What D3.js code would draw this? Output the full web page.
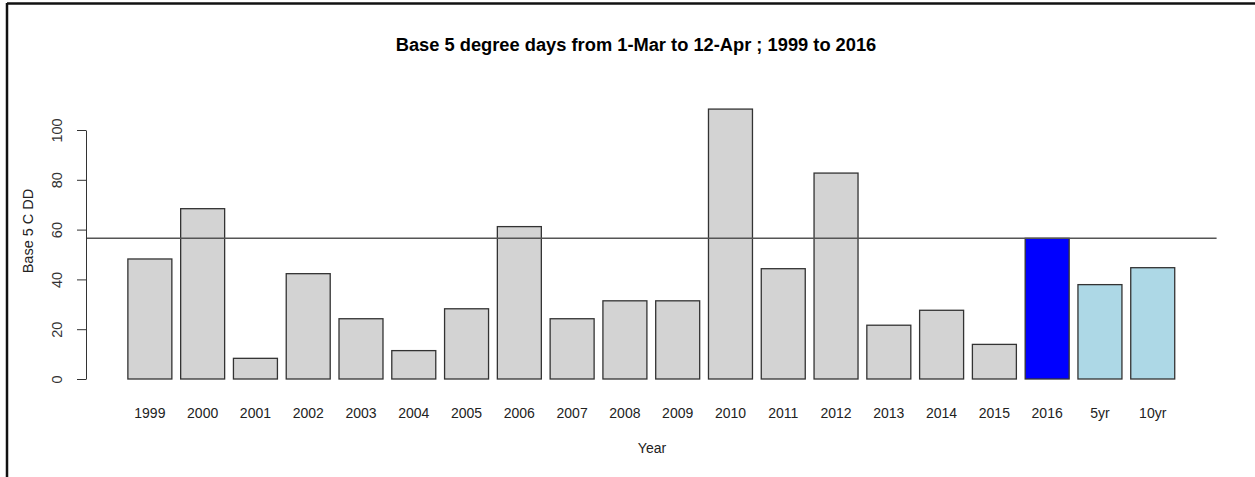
<!DOCTYPE html>
<html>
<head>
<meta charset="utf-8">
<script src="https://cdn.jsdelivr.net/npm/d3@7"></script>
<style>
  body { margin: 0; background: #fff; }
  svg { display: block; font-family: "Liberation Sans", Arial, sans-serif; }
</style>
</head>
<body>
<div id="chart"></div>
<script>
// Data
var categories = ["1999", "2000", "2001", "2002", "2003", "2004", "2005", "2006", "2007",
                  "2008", "2009", "2010", "2011", "2012", "2013", "2014", "2015", "2016", "5yr", "10yr"];
var values = [48.2, 68.4, 8.3, 42.3, 24.2, 11.4, 28.2, 61.2, 24.2,
              31.4, 31.4, 108.4, 44.3, 82.7, 21.6, 27.6, 13.9, 56.5, 37.9, 44.7];
var barColors = ["lightgray", "lightgray", "lightgray", "lightgray", "lightgray", "lightgray",
                 "lightgray", "lightgray", "lightgray", "lightgray", "lightgray", "lightgray",
                 "lightgray", "lightgray", "lightgray", "lightgray", "lightgray", "blue",
                 "lightblue", "lightblue"];
var yTicks = [0, 20, 40, 60, 80, 100];
var refValue = 56.5; // current year line

var width = 1255, height = 477;

// plot region (like R's par("usr") box)
var plot = { left: 86, right: 1216.6, zeroY: 379, hundredY: 130 };

var svg = d3.select("#chart").append("svg")
    .attr("width", width)
    .attr("height", height);

// outer frame of the screenshot (top and left edges only)
svg.append("line")
    .attr("x1", 7).attr("x2", width).attr("y1", 3.5).attr("y2", 3.5)
    .attr("stroke", "#111").attr("stroke-width", 2.5);
svg.append("line")
    .attr("x1", 7).attr("x2", 7).attr("y1", 3).attr("y2", height)
    .attr("stroke", "#111").attr("stroke-width", 2.5);

// R barplot: bars of width 1 with space 0.2, x range extended 4%
var n = categories.length;
var uMin = 0.2, uMax = n * 1.2;
var ext = (uMax - uMin) * 0.04;
var u = d3.scaleLinear()
    .domain([uMin - ext, uMax + ext])
    .range([plot.left, plot.right]);

var x = d3.scaleBand()
    .domain(categories)
    .range([u(0.1), u(uMax + 0.1)])
    .paddingInner(0.2 / 1.2)
    .paddingOuter(0.1 / 1.2);

var y = d3.scaleLinear()
    .domain([0, 100])
    .range([plot.zeroY, plot.hundredY]);

// bars
svg.append("g").selectAll("rect")
    .data(values)
    .join("rect")
    .attr("x", function (d, i) { return x(categories[i]); })
    .attr("y", function (d) { return y(d); })
    .attr("width", x.bandwidth())
    .attr("height", function (d) { return y(0) - y(d); })
    .attr("fill", function (d, i) { return barColors[i]; })
    .attr("stroke", "#333")
    .attr("stroke-width", 1.3);

// reference line across the plot region
svg.append("line")
    .attr("x1", plot.left).attr("x2", plot.right)
    .attr("y1", y(refValue)).attr("y2", y(refValue))
    .attr("stroke", "#555")
    .attr("stroke-width", 1.4);

// y axis
var yAxis = svg.append("g")
    .attr("transform", "translate(" + plot.left + ",0)")
    .call(d3.axisLeft(y).tickValues(yTicks).tickSize(9).tickSizeOuter(0).tickPadding(0));
yAxis.select(".domain").attr("stroke", "#333");
yAxis.selectAll(".tick line").attr("stroke", "#333");
yAxis.selectAll(".tick text")
    .attr("x", 0).attr("dy", null)
    .attr("transform", "translate(-29,0) rotate(-90)")
    .attr("text-anchor", "middle")
    .attr("dominant-baseline", "central")
    .attr("fill", "#333")
    .style("font-size", "14.5px")
    .style("font-family", "Liberation Sans, Arial, sans-serif");

// x category labels (no axis line, as in R barplot)
svg.append("g").selectAll("text")
    .data(categories)
    .join("text")
    .attr("x", function (d) { return x(d) + x.bandwidth() / 2; })
    .attr("y", 418)
    .attr("text-anchor", "middle")
    .attr("fill", "#222")
    .style("font-size", "14px")
    .text(function (d) { return d; });

// axis titles
svg.append("text")
    .attr("x", 652).attr("y", 453)
    .attr("text-anchor", "middle")
    .attr("fill", "#222")
    .style("font-size", "14px")
    .text("Year");

svg.append("text")
    .attr("transform", "translate(33,231) rotate(-90)")
    .attr("text-anchor", "middle")
    .attr("fill", "#222")
    .style("font-size", "14.5px")
    .text("Base 5 C DD");

// main title
svg.append("text")
    .attr("x", 636).attr("y", 51)
    .attr("text-anchor", "middle")
    .attr("fill", "#000")
    .style("font-size", "18.3px")
    .style("font-weight", "bold")
    .text("Base 5 degree days from 1-Mar to 12-Apr ; 1999 to 2016");
</script>
</body>
</html>
